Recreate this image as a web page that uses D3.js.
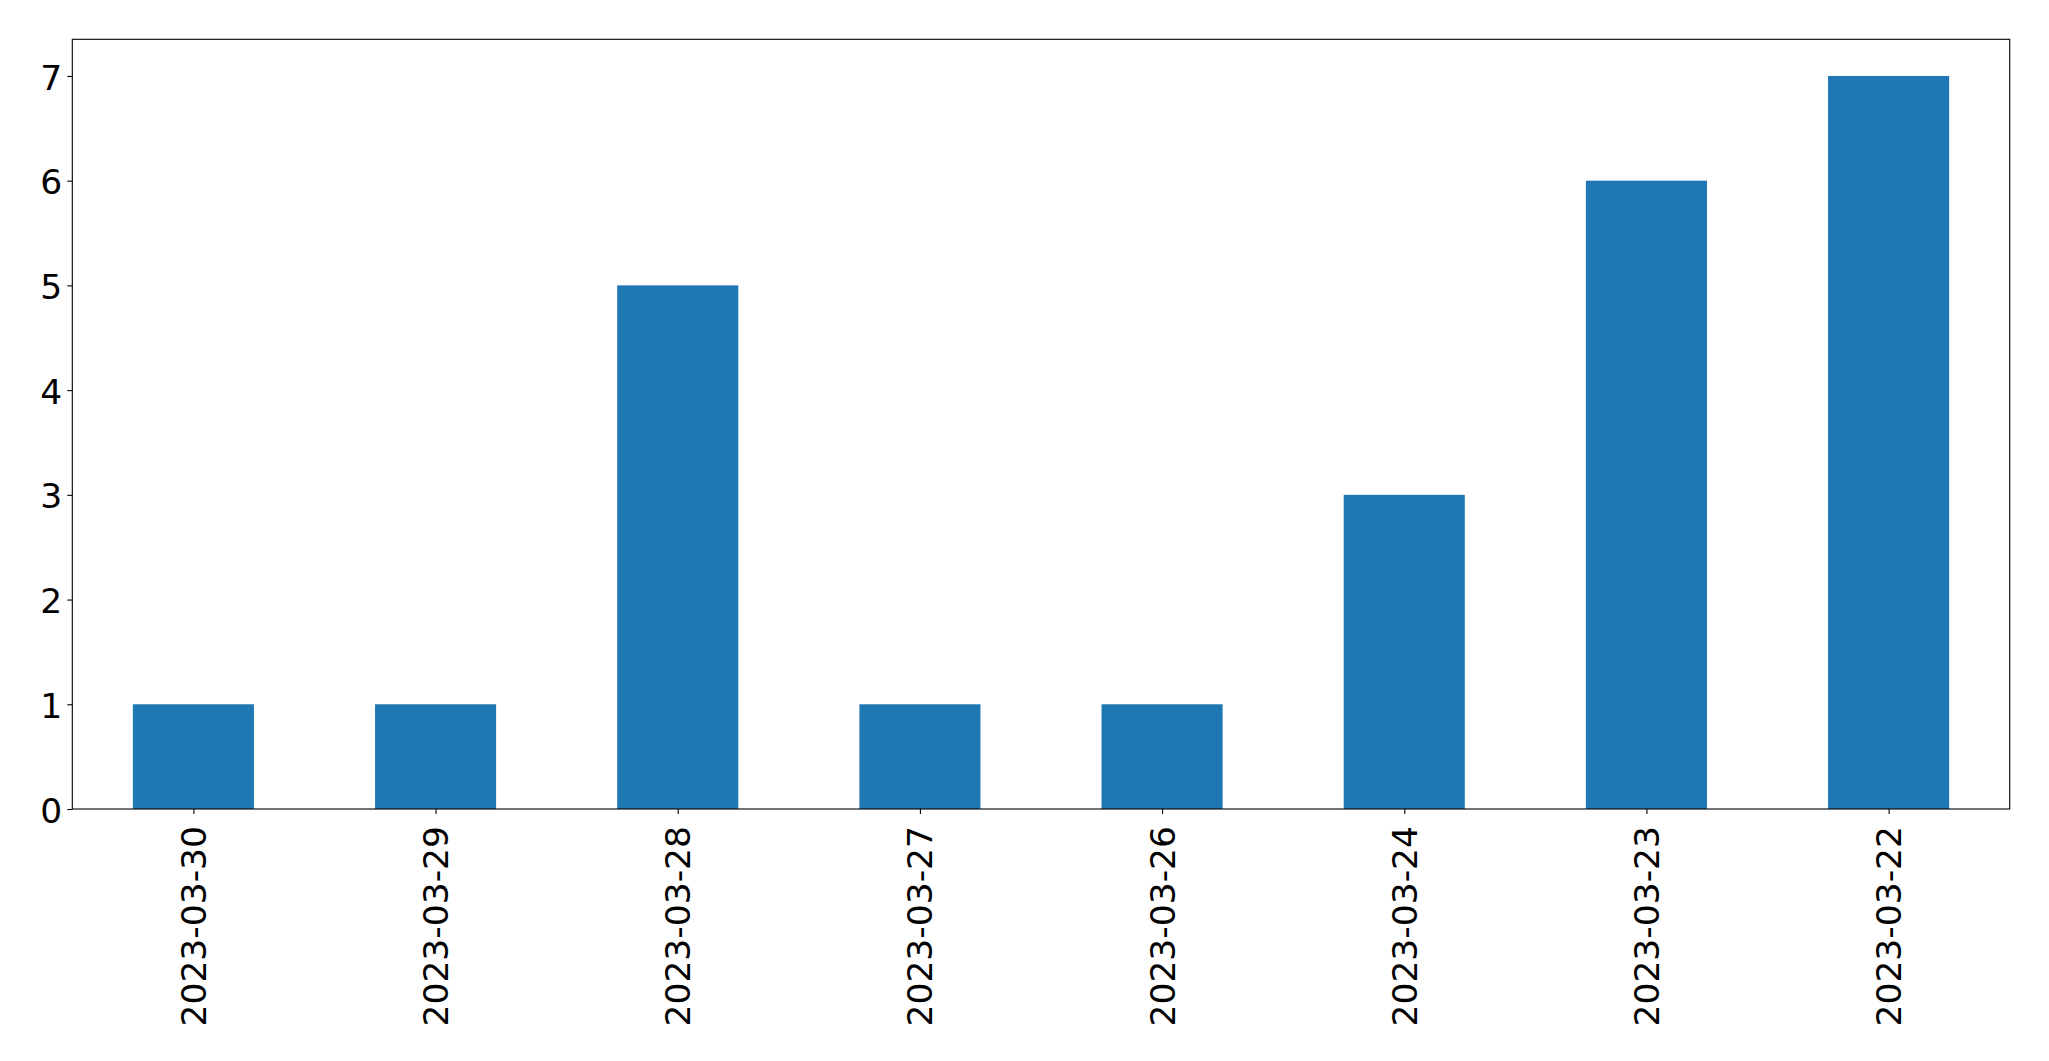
<!DOCTYPE html>
<html><head><meta charset="utf-8">
<script src="https://cdn.jsdelivr.net/npm/d3@7"></script>
<style>html,body{margin:0;padding:0;background:#fff;overflow:hidden}</style>
</head><body>
<svg id="chart" width="2049" height="1061"></svg>
<script>
const categories = ["2023-03-30","2023-03-29","2023-03-28","2023-03-27","2023-03-26","2023-03-24","2023-03-23","2023-03-22"];
const values = [1,1,5,1,1,3,6,7];
const yTicks = [0,1,2,3,4,5,6,7];

const svg = d3.select("#chart");
const mLeft = 72.3, mRight = 2009.7, mTop = 39.3, mBottom = 809;
const fontSize = 34.5;
const font = "DejaVu Sans";

const x = d3.scaleLinear().domain([-0.5, categories.length - 0.5]).range([mLeft, mRight]);
const y = d3.scaleLinear().domain([0, d3.max(values) * 1.05]).range([mBottom, mTop]);

svg.append("g").selectAll("rect").data(values).join("rect")
  .attr("x", (d, i) => x(i - 0.25))
  .attr("width", (d, i) => x(i + 0.25) - x(i - 0.25))
  .attr("y", d => y(d))
  .attr("height", d => y(0) - y(d))
  .attr("fill", "#1f77b4");

const yAxis = svg.append("g").attr("transform", `translate(${mLeft},0)`)
  .call(d3.axisLeft(y).tickValues(yTicks).tickFormat(d3.format("d")).tickSize(5).tickPadding(5));
yAxis.select(".domain").remove();
yAxis.selectAll("text").style("font-family", font).style("font-size", fontSize + "px").attr("fill", "#000").attr("dy", "0.38em");
yAxis.selectAll("line").attr("stroke", "#000").attr("stroke-width", 1.1);

const xAxis = svg.append("g").attr("transform", `translate(0,${mBottom})`)
  .call(d3.axisBottom(x).tickValues(d3.range(categories.length)).tickFormat(i => categories[i]).tickSize(5).tickPadding(0));
xAxis.select(".domain").remove();
xAxis.selectAll("line").attr("stroke", "#000").attr("stroke-width", 1.1);
xAxis.selectAll("text")
  .style("font-family", font).style("font-size", fontSize + "px").attr("fill", "#000")
  .attr("text-anchor", "end").attr("dy", "0.35em").attr("y", 0)
  .attr("transform", "translate(0,17) rotate(-90)");

svg.append("rect").attr("x", mLeft).attr("y", mTop).attr("width", mRight - mLeft).attr("height", mBottom - mTop)
  .attr("fill", "none").attr("stroke", "#000").attr("stroke-width", 1.1);
</script>
</body></html>
